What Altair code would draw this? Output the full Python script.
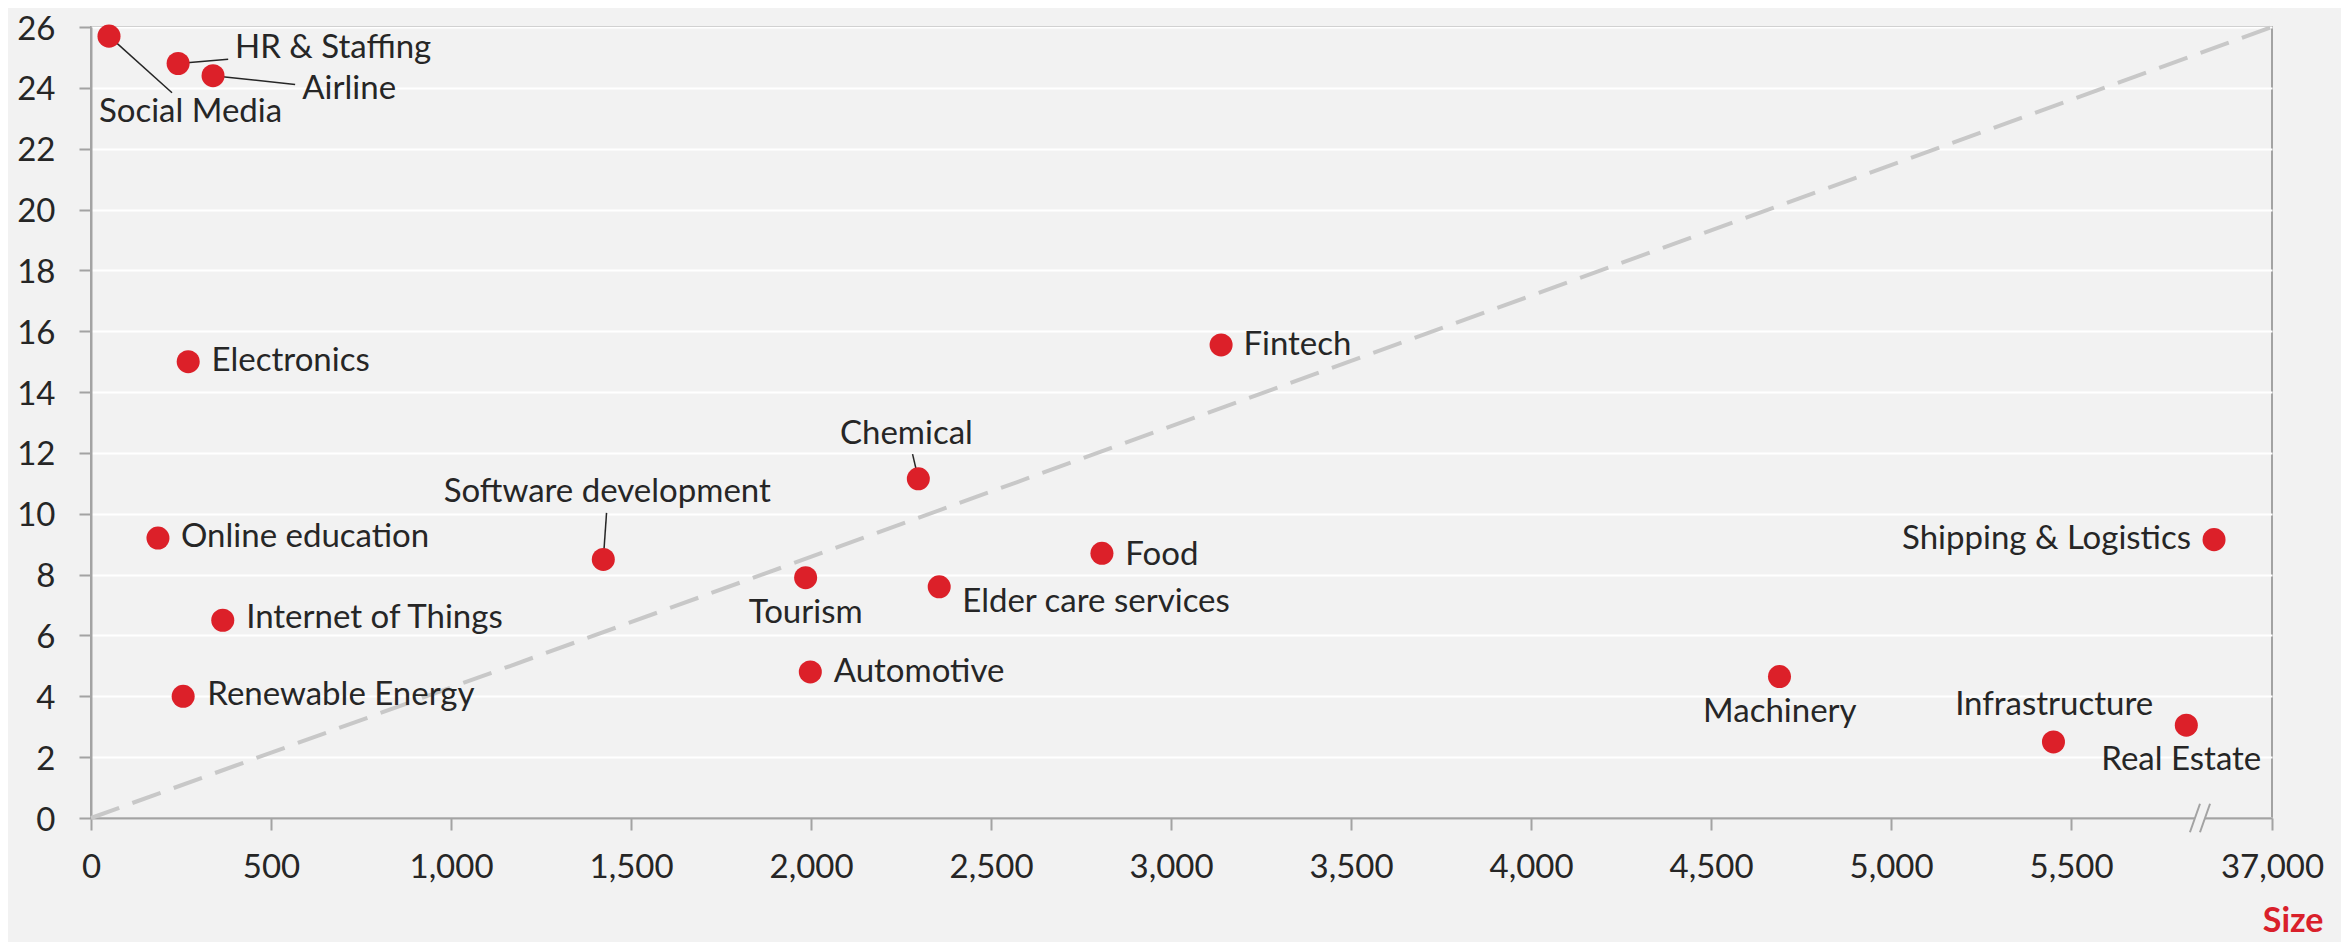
import altair as alt
import pandas as pd

# ---- data ----
industries = ["Social Media", "HR & Staffing", "Airline", "Electronics", "Online education",
              "Internet of Things", "Renewable Energy", "Software development", "Tourism",
              "Automotive", "Chemical", "Elder care services", "Food", "Fintech",
              "Machinery", "Infrastructure", "Real Estate", "Shipping & Logistics"]
size_vals = [50, 242, 339, 270, 186, 366, 256, 1423, 1985, 1998, 2298, 2356, 2808, 3139,
             4690, 5451, 5820, 5897]
growth_vals = [25.7, 24.8, 24.4, 15.0, 9.2, 6.5, 4.0, 8.5, 7.9, 4.8, 11.15, 7.6, 8.7, 15.55,
               4.65, 2.5, 3.05, 9.15]

# label anchor positions (data units) and alignment
label_x = [22, 400, 587, 335, 250, 431, 323, 1434, 1985, 2063, 2265, 2420, 2873, 3201,
           4691, 5453, 5806, 5833]
label_y = [23.22, 25.30, 23.95, 15.02, 9.25, 6.57, 4.03, 10.71, 6.75, 4.80, 12.62, 7.09, 8.66,
           15.56, 3.48, 3.71, 1.92, 9.17]
label_align = ["left", "left", "left", "left", "left", "left", "left", "center", "center",
               "left", "center", "left", "left", "left", "center", "center", "center", "right"]

# leader lines (end point next to the label)
leader_names = ["Social Media", "HR & Staffing", "Airline", "Software development", "Chemical"]
leader_end_x = [225, 381, 567, 1432, 2282]
leader_end_y = [23.84, 24.94, 24.11, 10.03, 11.96]

# axis
x_tick_values = [0, 500, 1000, 1500, 2000, 2500, 3000, 3500, 4000, 4500, 5000, 5500, 6058]
last_tick_label = "37,000"
x_max = 6058
y_ticks = list(range(0, 27, 2))
break_at = 5858

diag_x = [0, x_max]
diag_y = [0, 26]

RED = "#dc2029"
TXT = "#262626"
AX = "#a3a3a3"
FONT = "Lato"

df = pd.DataFrame({"name": industries, "size": size_vals, "growth": growth_vals,
                   "lx": label_x, "ly": label_y, "align": label_align})
lead = pd.DataFrame({"name": leader_names, "ex": leader_end_x, "ey": leader_end_y})
lead = lead.merge(df[["name", "size", "growth"]], on="name")
diag = pd.DataFrame({"x": diag_x, "y": diag_y})
brk = pd.DataFrame({"x": [break_at], "y": [0]})

xscale = alt.Scale(domain=[0, x_max], nice=False, zero=True)
yscale = alt.Scale(domain=[0, 26], nice=False)

x_axis = alt.Axis(
    values=x_tick_values,
    labelExpr=f"datum.value >= {x_max} ? '{last_tick_label}' : format(datum.value, ',')",
    grid=False, domainColor=AX, domainWidth=2, tickColor=AX, tickWidth=2, tickSize=12,
    labelFont=FONT, labelFontSize=33, labelColor=TXT, labelPadding=21,
    title="Size", titleFont=FONT, titleFontSize=34, titleFontWeight="bold", titleColor="#d9202a",
    titleAlign="right", titleX=2232, titleY=113, titleBaseline="alphabetic", titleAnchor="end",
    labelFlush=False, labelOverlap=False,
)
y_axis = alt.Axis(
    values=y_ticks, grid=True, gridColor="#ffffff", gridWidth=2,
    domainColor=AX, domainWidth=2, tickColor=AX, tickWidth=2, tickSize=12,
    labelFont=FONT, labelFontSize=33, labelColor=TXT, labelPadding=24, labelOffset=2,
    title=None,
)

diag_line = alt.Chart(diag).mark_line(color="#c8c8c8", strokeWidth=4, strokeDash=[30, 14]).encode(
    x=alt.X("x:Q", scale=xscale, axis=x_axis),
    y=alt.Y("y:Q", scale=yscale, axis=y_axis),
)

leaders = alt.Chart(lead).mark_rule(color=TXT, strokeWidth=1.5).encode(
    x=alt.X("size:Q", scale=xscale), y=alt.Y("growth:Q", scale=yscale),
    x2="ex:Q", y2="ey:Q",
)

points = alt.Chart(df).mark_circle(color=RED, opacity=1, size=530).encode(
    x=alt.X("size:Q", scale=xscale), y=alt.Y("growth:Q", scale=yscale),
)

def labels_for(al):
    return alt.Chart(df).transform_filter(alt.datum.align == al).mark_text(
        font=FONT, fontSize=33, color=TXT, align=al, baseline="middle"
    ).encode(
        x=alt.X("lx:Q", scale=xscale), y=alt.Y("ly:Q", scale=yscale), text="name:N"
    )

break_fill = alt.Chart(brk).mark_point(
    shape="M -0.67 0.95 L 0 -0.95 L 0.67 -0.95 L 0 0.95 Z",
    filled=True, fill="#f2f2f2", strokeWidth=0, opacity=1, size=900,
).encode(x=alt.X("x:Q", scale=xscale), y=alt.Y("y:Q", scale=yscale))
break_lines = alt.Chart(brk).mark_point(
    shape="M -0.67 0.95 L 0 -0.95 M 0 0.95 L 0.67 -0.95",
    filled=False, stroke=AX, strokeWidth=2, opacity=1, size=900,
).encode(x=alt.X("x:Q", scale=xscale), y=alt.Y("y:Q", scale=yscale))

chart = alt.layer(
    diag_line, leaders, points,
    labels_for("left"), labels_for("center"), labels_for("right"),
    break_fill, break_lines,
).properties(
    width=2181, height=791,
    autosize=alt.AutoSizeParams(type="none"),
    padding={"left": 83, "top": 19, "right": 69, "bottom": 124},
    background="#f2f2f2",
).configure_view(stroke=AX, strokeWidth=2, fill="#f2f2f2")

chart.save("out.html", embed_options={"renderer": "svg", "actions": False})
